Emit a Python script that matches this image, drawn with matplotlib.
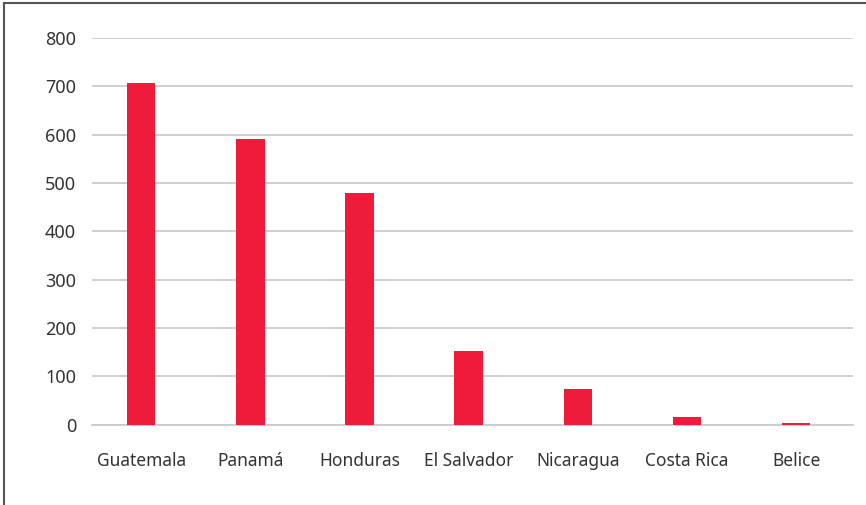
import matplotlib.pyplot as plt
from matplotlib.lines import Line2D

countries = ["Guatemala", "Panamá", "Honduras", "El Salvador", "Nicaragua", "Costa Rica", "Belice"]
values = [707, 591, 479, 152, 73, 16, 3]
y_ticks = [0, 100, 200, 300, 400, 500, 600, 700, 800]

BAR_COLOR = "#ee1b3a"
GRID_COLOR = "#cccccc"
TEXT_COLOR = "#333333"

plt.rcParams["font.family"] = ["Noto Sans", "DejaVu Sans"]

fig = plt.figure(figsize=(8.66, 5.05), dpi=100)
ax = fig.add_axes([92 / 866, 80.5 / 505, 761 / 866, 386.5 / 505])

x = range(len(countries))
ax.bar(x, values, width=0.26, color=BAR_COLOR, zorder=3)

ax.set_ylim(0, 800)
ax.set_xlim(-0.45, 6.52)
ax.set_yticks(y_ticks)
ax.set_xticks(list(x))
ax.set_xticklabels(countries)

ax.yaxis.grid(True, color=GRID_COLOR, linewidth=1.3, zorder=0)
ax.set_axisbelow(True)
for side in ["top", "right", "left"]:
    ax.spines[side].set_visible(False)
ax.spines["bottom"].set_color(GRID_COLOR)
ax.spines["bottom"].set_linewidth(1.3)

ax.tick_params(axis="both", length=0, colors=TEXT_COLOR)
ax.tick_params(axis="y", pad=11.5, labelsize=13)
ax.tick_params(axis="x", pad=19.5, labelsize=12.5)

# frame lines along the left and top edges
fig.add_artist(Line2D([3.5 / 866, 3.5 / 866], [0, 1 - 2.5 / 505],
                      transform=fig.transFigure, color="#555555", linewidth=1.5))
fig.add_artist(Line2D([3.5 / 866, 865 / 866], [1 - 2.5 / 505, 1 - 2.5 / 505],
                      transform=fig.transFigure, color="#555555", linewidth=1.5))

fig.savefig("out.png", dpi=100)
